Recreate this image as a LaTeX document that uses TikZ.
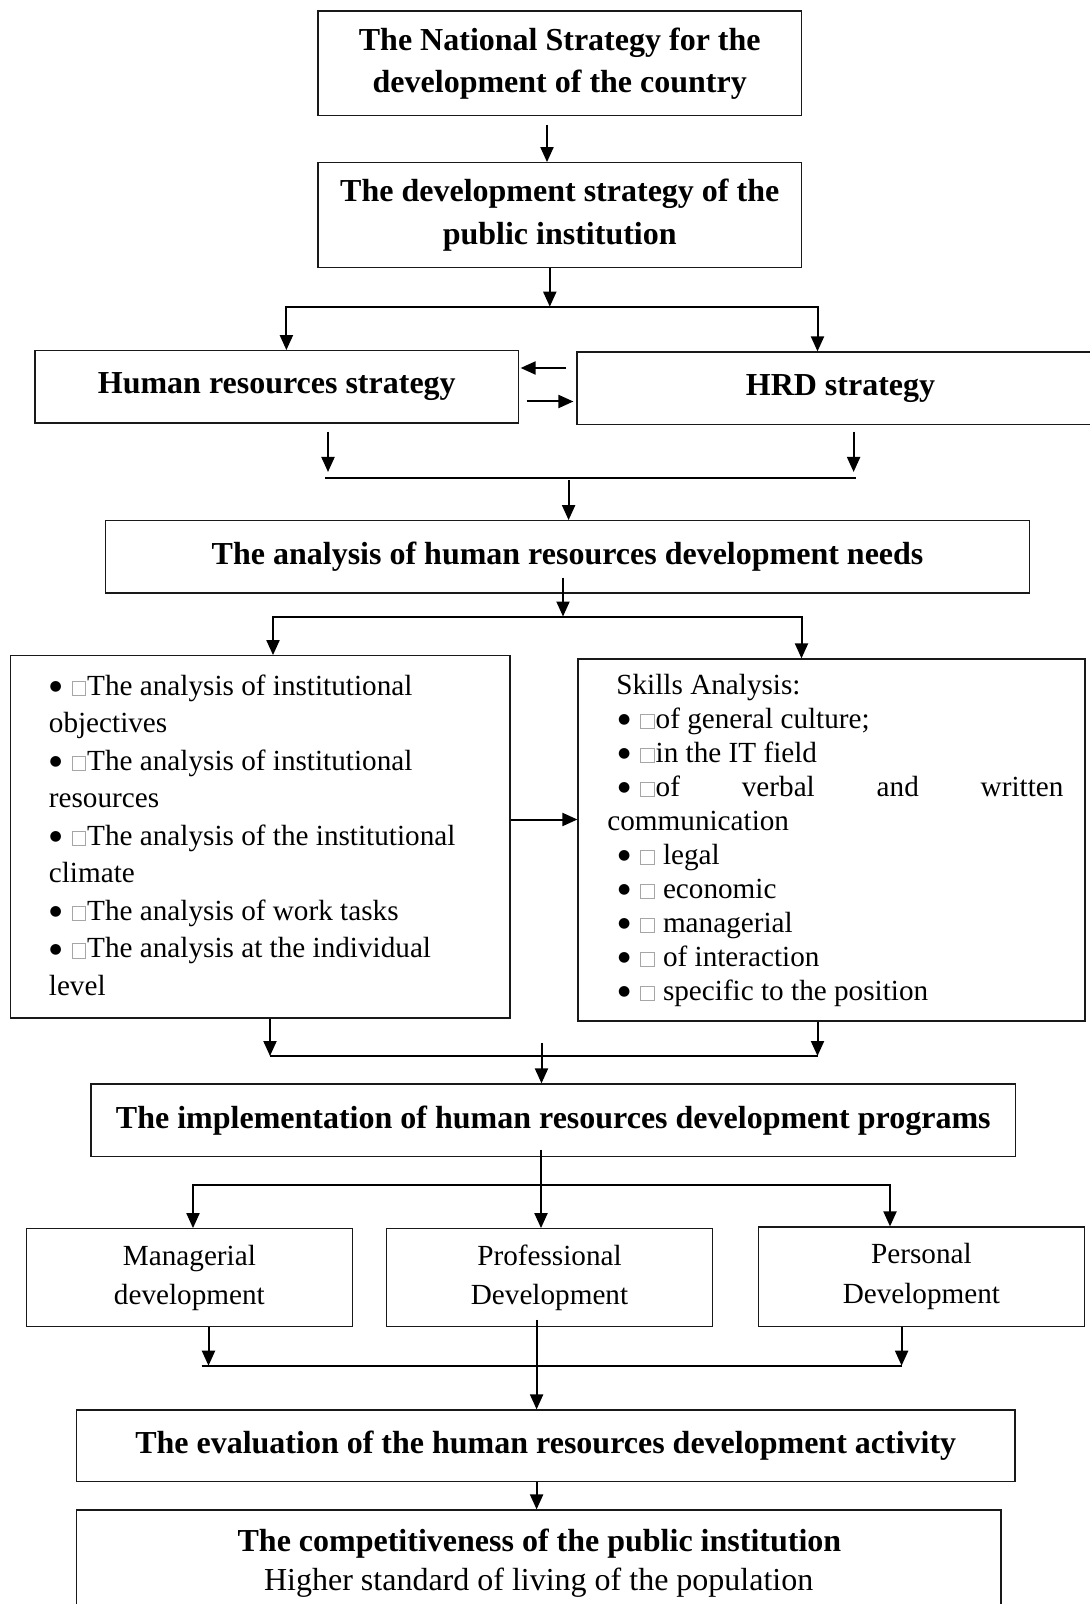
\documentclass[tikz,border=0pt]{standalone}
\usepackage{fontspec}
\setmainfont{Liberation Serif}
\newfontfamily\symfont{DejaVu Sans}
\usetikzlibrary{arrows.meta}
\newcommand\mytofu{{\color{black!35}\fboxsep=0pt\fboxrule=0.4pt\fbox{\rule{0pt}{6.9pt}\hspace{6.45pt}}}\hspace{0.5pt}}
\newcommand\mydot{\makebox[11.4pt][l]{\hspace{0.4pt}\raisebox{2.3pt}{\symfont\fontsize{7pt}{0pt}\selectfont ●}}}
\newcommand\mybul{\mydot\mytofu}
\begin{document}
\begin{tikzpicture}[x=0.5pt,y=-0.5pt,
  box/.style={draw=black!90, line width=0.6pt, inner sep=0pt, align=center},
  bt/.style={font=\fontsize{16pt}{21pt}\selectfont\bfseries},
  rt/.style={font=\fontsize{14.6pt}{19.5pt}\selectfont},
  ln/.style={line width=1pt},
  arr/.style={line width=1pt, -{Triangle[length=7.5pt,width=6.5pt]}},
  arrb/.style={line width=1pt, line join=miter, {Triangle[length=7.5pt,width=6.5pt]}-{Triangle[length=7.5pt,width=6.5pt]}}]
\useasboundingbox (0,0) rectangle (1090,1604);
% boxes
\node[box,bt,minimum width=241.75pt,minimum height=52.35pt] (nat) at (559.75,63.35) {The National Strategy for the\\development of the country};
\node[box,bt,font=\fontsize{16pt}{21.5pt}\selectfont\bfseries,minimum width=241.75pt,minimum height=52.3pt] (inst) at (559.75,215) {The development strategy of the\\public institution};
\node[box,bt,minimum width=241.8pt,minimum height=36.15pt] (hr) at (276.8,386.85) {Human resources strategy};
\node[box,bt,minimum width=263.5pt,minimum height=36.15pt] (hrd) at (840.5,388.15) {HRD strategy};
\node[box,bt,minimum width=461.9pt,minimum height=36.15pt] (ana) at (567.6,556.85) {The analysis of human resources development needs};
\node[box,minimum width=249.8pt,minimum height=181.15pt] (lbox) at (260.2,836.85) {};
\node[box,minimum width=253.5pt,minimum height=181pt] (rbox) at (831.5,840) {};
\node[box,bt,minimum width=462.3pt,minimum height=36.35pt] (impl) at (553.3,1120.35) {The implementation of human resources development programs};
\node[box,rt,minimum width=163pt,minimum height=49pt] (man) at (189.4,1277.7) {Managerial\\development};
\node[box,rt,minimum width=163pt,minimum height=49pt] (prof) at (549.5,1277.7) {Professional\\Development};
\node[box,rt,font=\fontsize{14.6pt}{20pt}\selectfont,minimum width=163pt,minimum height=49.85pt] (pers) at (921.4,1276.85) {Personal\\Development};
\node[box,bt,minimum width=469.25pt,minimum height=35.85pt] (eval) at (545.75,1445.85) {The evaluation of the human resources development activity};
\node[box,minimum width=462.25pt,minimum height=65pt] (comp) at (538.75,1575) {};
\node[bt,anchor=base,inner sep=0pt] (compA) at (539.4,1551.7) {The competitiveness of the public institution};
\node[font=\fontsize{16pt}{19pt}\selectfont,anchor=base,inner sep=0pt] (compB) at (538.7,1590) {Higher standard of living of the population};
% list texts
\node[font=\fontsize{14.6pt}{18.75pt}\selectfont,anchor=north west,inner sep=0pt,align=left] (ltxt) at (48.5,671) {\rule{0pt}{12pt}\mybul The analysis of institutional\\
objectives\\
\mybul The analysis of institutional\\
resources\\
\mybul The analysis of the institutional\\
climate\\
\mybul The analysis of work tasks\\
\mybul The analysis at the individual\\
level};
\node[font=\fontsize{14.6pt}{17pt}\selectfont,anchor=north west,inner sep=0pt,align=left] (rtxt) at (607,670) {\rule{0pt}{12pt}\hspace*{4.5pt}Skills Analysis:\\
\hspace*{5pt}\mybul of general culture;\\
\hspace*{5pt}\mybul in the IT field\\
\hspace*{5pt}\hbox to 223pt{\mybul of\hfill verbal\hfill and\hfill written}\\
communication\\
\hspace*{5pt}\mybul\ legal\\
\hspace*{5pt}\mybul\ economic\\
\hspace*{5pt}\mybul\ managerial\\
\hspace*{5pt}\mybul\ of interaction\\
\hspace*{5pt}\mybul\ specific to the position};
% connectors
\coordinate (a1) at (547,0);
\draw[arr,shorten <=4.3pt] (nat.south -| a1) -- (inst.north -| a1);
\coordinate (b1) at (549.8,306.7);
\coordinate (b1l) at (286.4,306.7);
\coordinate (b1r) at (817.5,306.7);
\draw[arr] (inst.south -| b1) -- (b1);
\draw[arrb] (hr.north -| b1l) -- (b1l) -- (b1r) -- (hrd.north -| b1r);
\coordinate (y1) at (0,368);
\coordinate (y2) at (0,401.5);
\draw[arr,shorten <=5pt,shorten >=0.7pt] (hrd.west |- y1) -- (hr.east |- y1);
\draw[arr,shorten <=3.7pt,shorten >=1.5pt] (hr.east |- y2) -- (hrd.west |- y2);
\coordinate (c1) at (328,472);
\coordinate (c2) at (853.6,472);
\coordinate (b2l) at (325,478);
\coordinate (b2r) at (856,478);
\draw[arr,shorten <=4pt] (hr.south -| c1) -- (c1);
\draw[arr,shorten <=3.4pt] (hrd.south -| c2) -- (c2);
\draw[ln] (b2l) -- (b2r);
\coordinate (b2) at (568.6,480);
\draw[arr] (b2) -- (ana.north -| b2);
\coordinate (b3) at (563,616.5);
\coordinate (b3l) at (273,616.5);
\coordinate (b3r) at (801.5,616.5);
\draw[arr,shorten <=-8pt] (ana.south -| b3) -- (b3);
\draw[arrb] (lbox.north -| b3l) -- (b3l) -- (b3r) -- (rbox.north -| b3r);
\coordinate (y3) at (0,819.5);
\draw[arr] (lbox.east |- y3) -- (rbox.west |- y3);
\coordinate (b4l) at (270,1056);
\coordinate (b4r) at (817.5,1056);
\draw[arr] (lbox.south -| b4l) -- (b4l);
\draw[arr] (rbox.south -| b4r) -- (b4r);
\draw[ln] (b4l) -- (b4r);
\coordinate (c4) at (541.5,1043);
\draw[arr] (c4) -- (impl.north -| c4);
\coordinate (b5) at (541,1185);
\coordinate (b5l) at (193,1185);
\coordinate (b5r) at (890,1185);
\draw[arr,shorten <=-3.8pt] (impl.south -| b5) -- (prof.north -| b5);
\draw[arrb] (man.north -| b5l) -- (b5l) -- (b5r) -- (pers.north -| b5r);
\coordinate (b6s) at (201.6,1365.7);
\coordinate (b6l) at (208.5,1365.7);
\coordinate (b6r) at (901.6,1365.7);
\draw[arr] (man.south -| b6l) -- (b6l);
\draw[arr] (pers.south -| b6r) -- (b6r);
\draw[ln] (b6s) -- (b6r);
\coordinate (c6) at (536.6,0);
\draw[arr,shorten <=-3.8pt] (prof.south -| c6) -- (eval.north -| c6);
\draw[arr] (eval.south -| c6) -- (comp.north -| c6);
\end{tikzpicture}
\end{document}
